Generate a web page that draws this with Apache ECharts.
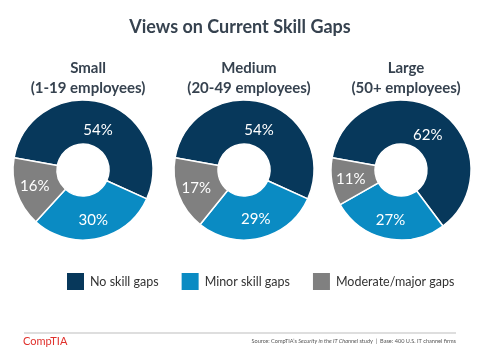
<!DOCTYPE html>
<html>
<head>
<meta charset="utf-8">
<style>html,body{margin:0;padding:0;background:#fff}#c{width:480px;height:360px}</style>
<script src="https://cdn.jsdelivr.net/npm/echarts@6/dist/echarts.min.js"></script>
</head>
<body>
<div id="c"></div>
<script>
const categories = ['No skill gaps', 'Minor skill gaps', 'Moderate/major gaps'];
const groups = ['Small\n(1-19 employees)', 'Medium\n(20-49 employees)', 'Large\n(50+ employees)'];
const small = [54, 30, 16];
const medium = [54, 29, 17];
const large = [62, 27, 11];
const seriesValues = [small, medium, large];
const colors = ['#07385b', '#0a8bc3', '#808080'];
const centersX = [83, 244, 401];
const FONT = 'Lato';

const chart = echarts.init(document.getElementById('c'), null, {renderer: 'canvas'});
const titles = [{
  text: 'Views on Current Skill Gaps',
  left: 'center', top: 13,
  textStyle: {fontFamily: FONT, fontSize: 18, fontWeight: 'bold', color: '#36424f'}
}];
groups.forEach((g, i) => {
  titles.push({
    text: g, left: centersX[i], top: 53, textAlign: 'center',
    textStyle: {fontFamily: FONT, fontSize: 15, fontWeight: 'bold', color: '#36424f', lineHeight: 20}
  });
});
const series = seriesValues.map((vals, i) => ({
  type: 'pie',
  center: [centersX[i], 170],
  radius: [26, 70],
  startAngle: 170,
  clockwise: true,
  silent: true,
  animation: false,
  itemStyle: {borderColor: '#fff', borderWidth: 1.5},
  label: {show: true, position: 'inside', formatter: '{c}%', color: '#fff', fontFamily: FONT, fontSize: 15},
  labelLine: {show: false},
  data: vals.map((v, j) => ({
    name: categories[j], value: v, itemStyle: {color: colors[j]},
    label: j === 0 ? {offset: [0, 9]} : {}
  }))
}));
chart.setOption({
  animation: false,
  title: titles,
  color: colors,
  legend: {
    data: categories,
    left: 60, top: 266, width: 440,
    icon: 'rect', itemWidth: 19, itemHeight: 19, itemGap: 21,
    selectedMode: false,
    textStyle: {fontFamily: FONT, fontSize: 12.5, color: '#333'}
  },
  graphic: [
    {type: 'line', shape: {x1: 24, y1: 333, x2: 456, y2: 333}, style: {stroke: '#bdbdbd', lineWidth: 1}},
    {type: 'text', left: 23, top: 336, style: {text: 'CompTIA', fill: '#e0312c', font: '11px ' + FONT}},
    {type: 'text', right: 24, top: 338, style: {
      text: '{n|Source: CompTIA\u2019s }{i|Security in the IT Channel}{n| study  |  Base: 400 U.S. IT channel firms}',
      rich: {
        n: {fontFamily: FONT, fontSize: 5.6, fill: '#555', color: '#555'},
        i: {fontFamily: FONT, fontSize: 5.6, fontStyle: 'italic', fill: '#555', color: '#555'}
      }
    }}
  ],
  series: series
});
</script>
</body>
</html>
